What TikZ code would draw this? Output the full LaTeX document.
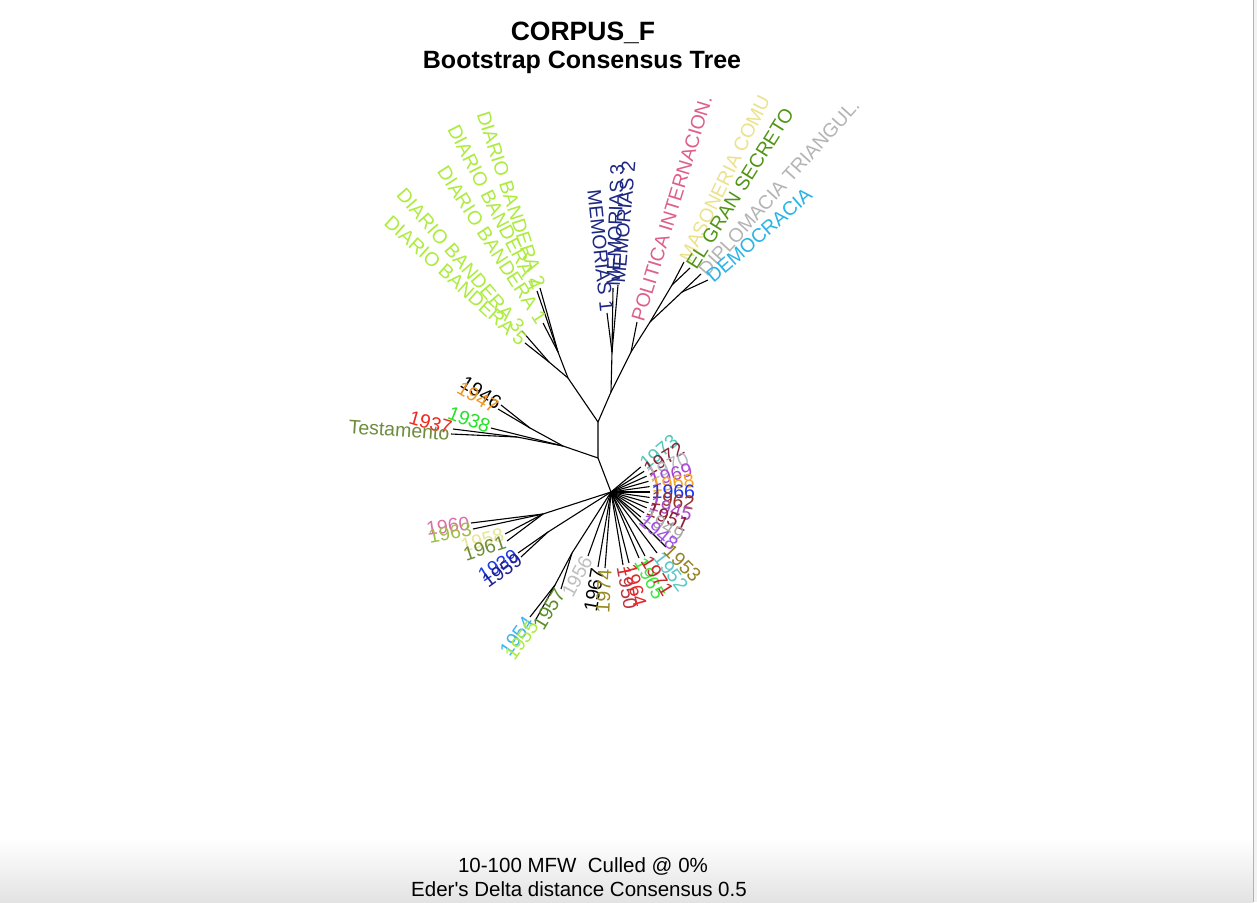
\documentclass[tikz,border=0pt]{standalone}
\usepackage{fontspec}
\setmainfont{Liberation Sans}
\usetikzlibrary{calc}
\definecolor{cdiario}{RGB}{172,236,62}
\definecolor{cmem}{RGB}{30,40,130}
\definecolor{cpol}{RGB}{222,95,140}
\definecolor{cmas}{RGB}{236,226,140}
\definecolor{cgran}{RGB}{80,150,20}
\definecolor{cdip}{RGB}{180,180,180}
\definecolor{cdem}{RGB}{40,180,230}
\definecolor{corange}{RGB}{240,150,30}
\definecolor{cred}{RGB}{240,40,30}
\definecolor{cgreen}{RGB}{40,225,40}
\definecolor{ctest}{RGB}{110,140,60}
\definecolor{cpink}{RGB}{220,110,170}
\definecolor{cyg}{RGB}{160,190,70}
\definecolor{cpale}{RGB}{232,230,150}
\definecolor{colive}{RGB}{110,140,60}
\definecolor{cblue}{RGB}{30,60,230}
\definecolor{cdblue}{RGB}{30,30,150}
\definecolor{clblue}{RGB}{60,180,240}
\definecolor{clime}{RGB}{172,236,62}
\definecolor{cog}{RGB}{90,140,40}
\definecolor{clgray}{RGB}{190,190,190}
\definecolor{cbolive}{RGB}{150,140,30}
\definecolor{cbred}{RGB}{190,50,60}
\definecolor{cbred2}{RGB}{230,40,40}
\definecolor{cbgreen}{RGB}{60,230,60}
\definecolor{cbred3}{RGB}{200,40,40}
\definecolor{cteal}{RGB}{90,200,200}
\definecolor{cbolive2}{RGB}{150,130,40}
\definecolor{cfa}{RGB}{80,200,190}
\definecolor{cfb}{RGB}{130,40,50}
\definecolor{cfc}{RGB}{185,185,200}
\definecolor{cfd}{RGB}{170,70,210}
\definecolor{cfe}{RGB}{245,165,40}
\definecolor{cff}{RGB}{30,50,240}
\definecolor{cfg}{RGB}{150,50,40}
\definecolor{cfh}{RGB}{170,80,200}
\definecolor{cfi}{RGB}{140,30,50}
\definecolor{cfj}{RGB}{170,170,170}
\definecolor{cfk}{RGB}{160,80,230}
\begin{document}
\begin{tikzpicture}[x=1pt,y=-1pt,
  edge/.style={line width=1.1pt,black},
  lab/.style={font=\fontsize{19.5}{20}\selectfont,inner sep=1.5pt},
  ttl/.style={font=\fontsize{25}{27}\selectfont\bfseries},
  foot/.style={font=\fontsize{20.5}{22}\selectfont}]
\useasboundingbox (0,0) rectangle (1257,902);
\fill[white] (0,0) rectangle (1257,902);
\shade[top color=white,bottom color=gray!22] (0,838) rectangle (1253,902);
\fill[gray!10] (1253,0) rectangle (1257,902);
\draw[gray!60,line width=0.8pt] (1253,0) -- (1253,902);

% titles
\node[ttl,font=\fontsize{26.5}{28}\selectfont\bfseries] (t1) at (583,33) {CORPUS\_F};
\node[ttl] (t2) at (582,62) {Bootstrap Consensus Tree};
\node[foot] (b1) at (583,866) {10-100 MFW\ \ Culled @ 0\%};
\node[foot] (b2) at (579,889) {Eder\textquotesingle s Delta distance Consensus 0.5};

% internal nodes
\coordinate (H) at (611,492);
\coordinate (A) at (598,458);
\coordinate (B) at (598,422);
\coordinate (T1) at (563,446);
\coordinate (T2) at (530,428);
\coordinate (T3) at (517,437);
\coordinate (D0) at (568,378);
\coordinate (Da) at (558,352);
\coordinate (Db) at (549,362);
\coordinate (C1) at (611,392);
\coordinate (M) at (612,352);
\coordinate (C2) at (631,352);
\coordinate (C3) at (650,322);
\coordinate (C4) at (672,285);
\coordinate (C5) at (682,292);
\coordinate (P1) at (543,514);
\coordinate (P3) at (548,532);
\coordinate (N1) at (572,553);
\coordinate (N2) at (555,585);

% tips
\coordinate (x1946) at (501,405);
\coordinate (x1947) at (498,409);
\coordinate (x1938) at (491,428);
\coordinate (xtest) at (451,434);
\coordinate (x1937) at (453,429);
\coordinate (dl1) at (540,288);
\coordinate (dl2) at (537,291);
\coordinate (dl3) at (543,323);
\coordinate (dl4) at (522,331);
\coordinate (dl5) at (525,343);
\coordinate (m1) at (607,313);
\coordinate (m3) at (613,288);
\coordinate (m2) at (618,285);
\coordinate (pol) at (637,322);
\coordinate (mas) at (684,262);
\coordinate (gran) at (690,268);
\coordinate (dip) at (701,274);
\coordinate (dem) at (708,280);
\coordinate (x1960) at (471,523);
\coordinate (x1963) at (473,529);
\coordinate (x1958) at (505,534);
\coordinate (x1961) at (507,541);
\coordinate (x1939) at (518,553);
\coordinate (x1959) at (521,557);
\coordinate (x1956) at (588,556);
\coordinate (x1957) at (561,589);
\coordinate (x1954) at (530,617);
\coordinate (x1955) at (535,621);
\coordinate (x1967) at (598,567);
\coordinate (x1974) at (605,568);
\coordinate (x1950) at (623,565);
\coordinate (x1964) at (629,563);
\coordinate (x1965) at (639,558);
\coordinate (x1971) at (645,556);
\coordinate (x1952) at (657,553);
\coordinate (x1953) at (666,547);

% edges
\draw[edge] (H) -- (A) -- (B);
\draw[edge] (A) -- (T1) -- (T2) -- (x1946);
\draw[edge] (T2) -- (x1947);
\draw[edge] (T1) -- (x1938);
\draw[edge] (T1) -- (T3) -- (xtest);
\draw[edge] (T3) -- (x1937);
\draw[edge] (B) -- (D0) -- (Da) -- (dl1);
\draw[edge] (Da) -- (dl2);
\draw[edge] (Da) -- (dl3);
\draw[edge] (D0) -- (Db) -- (dl4);
\draw[edge] (Db) -- (dl5);
\draw[edge] (B) -- (C1) -- (M) -- (m1);
\draw[edge] (M) -- (m3);
\draw[edge] (M) -- (m2);
\draw[edge] (C1) -- (C2) -- (pol);
\draw[edge] (C2) -- (C3) -- (C4) -- (mas);
\draw[edge] (C4) -- (gran);
\draw[edge] (C3) -- (C5) -- (dip);
\draw[edge] (C5) -- (dem);
\draw[edge] (H) -- (P1) -- (x1960);
\draw[edge] (P1) -- (x1963);
\draw[edge] (P1) -- (x1958);
\draw[edge] (P1) -- (x1961);
\draw[edge] (H) -- (P3) -- (x1939);
\draw[edge] (P3) -- (x1959);
\draw[edge] (H) -- (x1956);
\draw[edge] (H) -- (N1) -- (x1957);
\draw[edge] (N1) -- (N2) -- (x1954);
\draw[edge] (N2) -- (x1955);
\foreach \t in {x1967,x1974,x1950,x1964,x1965,x1971,x1952,x1953}
  \draw[edge] (H) -- (\t);

% right fan
\foreach \th/\rt/\tx/\c [count=\i] in {-40/40/1973/cfa,-32/32/1972/cfb,-24/24/1970/cfc,-16/16/1969/cfd,-8/8/1968/cfe,0/0/1966/cff,8/-8/1962/cfg,16/-16/1945/cfh,24/-24/1951/cfi,32/-32/1949/cfj,40/-40/1948/cfk}{
  \coordinate (f\i) at ($(H)+(\th:39)$);
  \draw[edge] (H) -- (f\i);
  \node[lab,text=\c,rotate=\rt,anchor=west] (lf\i) at (f\i) {\tx};
}

% labels
\node[lab,text=black,rotate=-32,anchor=east] (l1946) at (x1946) {1946};
\node[lab,text=corange,rotate=-30,anchor=east] (l1947) at (x1947) {1947};
\node[lab,text=cred,rotate=-16,anchor=east] (l1937) at (x1937) {1937};
\node[lab,text=cgreen,rotate=-21,anchor=east] (l1938) at (x1938) {1938};
\node[lab,text=ctest,rotate=-4,anchor=east] (ltest) at (xtest) {Testamento};

\begin{scope}
\clip (0,92) rectangle (1257,902);
\node[lab,text=cdiario,rotate=-72,anchor=east] (ld1) at (dl1) {DIARIO BANDERA 2};
\node[lab,text=cdiario,rotate=-63,anchor=east] (ld2) at (dl2) {DIARIO BANDERA 4};
\node[lab,text=cdiario,rotate=-57,anchor=east] (ld3) at (dl3) {DIARIO BANDERA 1};
\node[lab,text=cdiario,rotate=-49,anchor=east] (ld4) at (dl4) {DIARIO BANDERA 3};
\node[lab,text=cdiario,rotate=-42,anchor=east] (ld5) at (dl5) {DIARIO BANDERA 5};
\node[lab,text=cmem,rotate=-84,anchor=east] (lm1) at (m1) {MEMORIAS 1};
\node[lab,text=cmem,rotate=88,anchor=west] (lm3) at (m3) {MEMORIAS 3};
\node[lab,text=cmem,rotate=85,anchor=west] (lm2) at (m2) {MEMORIAS 2};
\node[lab,text=cpol,rotate=73,anchor=west] (lpol) at (pol) {POLITICA INTERNACION.};
\node[lab,text=cmas,rotate=64,anchor=west] (lmas) at (mas) {MASONERIA COMU};
\node[lab,text=cgran,rotate=58,anchor=west] (lgran) at (gran) {EL GRAN SECRETO};
\node[lab,text=cdip,rotate=48,anchor=west] (ldip) at (dip) {DIPLOMACIA TRIANGUL.};
\node[lab,text=cdem,rotate=41,anchor=west] (ldem) at (dem) {DEMOCRACIA};
\end{scope}

\node[lab,text=cpink,rotate=8,anchor=east] (l1960) at (x1960) {1960};
\node[lab,text=cyg,rotate=10,anchor=east] (l1963) at (x1963) {1963};
\node[lab,text=cpale,rotate=15,anchor=east] (l1958) at (x1958) {1958};
\node[lab,text=colive,rotate=18,anchor=east] (l1961) at (x1961) {1961};
\node[lab,text=cblue,rotate=32,anchor=east] (l1939) at (x1939) {1939};
\node[lab,text=cdblue,rotate=36,anchor=east] (l1959) at (x1959) {1959};
\node[lab,text=clgray,rotate=62,anchor=east] (l1956) at (x1956) {1956};
\node[lab,text=cog,rotate=59,anchor=east] (l1957) at (x1957) {1957};
\node[lab,text=clblue,rotate=55,anchor=east] (l1954) at (x1954) {1954};
\node[lab,text=clime,rotate=55,anchor=east] (l1955) at (x1955) {1955};
\node[lab,text=black,rotate=80,anchor=east] (l1967) at (x1967) {1967};
\node[lab,text=cbolive,rotate=87,anchor=east] (l1974) at (x1974) {1974};
\node[lab,text=cbred,rotate=-80,anchor=west] (l1950) at (x1950) {1950};
\node[lab,text=cbred2,rotate=-75,anchor=west] (l1964) at (x1964) {1964};
\node[lab,text=cbgreen,rotate=-62,anchor=west] (l1965) at (x1965) {1965};
\node[lab,text=cbred3,rotate=-58,anchor=west] (l1971) at (x1971) {1971};
\node[lab,text=cteal,rotate=-53,anchor=west] (l1952) at (x1952) {1952};
\node[lab,text=cbolive2,rotate=-45,anchor=west] (l1953) at (x1953) {1953};
\end{tikzpicture}
\end{document}
